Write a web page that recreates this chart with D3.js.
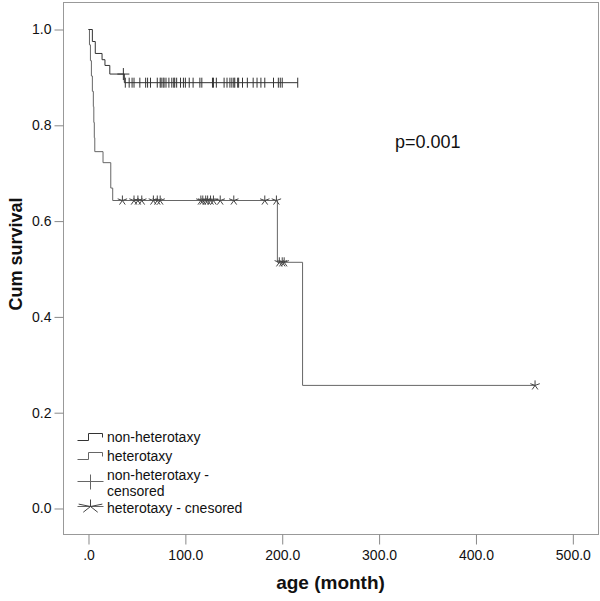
<!DOCTYPE html>
<html>
<head>
<meta charset="utf-8">
<script src="https://cdnjs.cloudflare.com/ajax/libs/d3/7.8.5/d3.min.js"></script>
<style>
  body { margin: 0; background: #fff; }
  text { font-family: "Liberation Sans", Arial, sans-serif; }
</style>
</head>
<body>
<div id="chart"></div>
<script>
var svgWidth = 600;
var svgHeight = 601;

// step curves: [time (months), cumulative survival]
var nonHetSteps = [[0, 1.0], [4, 0.975], [7, 0.95], [14, 0.937], [17, 0.925], [22, 0.907], [37, 0.889], [216, 0.889]];
var hetSteps = [[0, 1.0], [1, 0.968], [2, 0.935], [3, 0.903], [4, 0.871], [5, 0.839], [5.5, 0.806], [6, 0.774], [6.5, 0.745],
  [15, 0.722], [23, 0.669], [25, 0.643], [195, 0.514], [221, 0.257], [461, 0.257]];

// censored times
var nonHetCensorEarly = [36];
var nonHetCensorEarlyLevel = 0.907;
var nonHetCensored = [38, 42, 45, 47, 53, 59, 61, 64, 71, 74, 75, 77, 78, 80, 83, 86, 88, 89, 91, 95, 98, 100,
  104, 108, 115, 117, 128, 129, 132, 140, 143, 146, 148, 150, 151, 154, 155, 159, 164, 170, 174, 178, 182,
  191, 196, 198, 200, 216];
var nonHetLevel = 0.889;
var hetCensored = [35, 47, 51, 55, 67, 71, 74, 116, 118, 121, 123, 126, 129, 136, 150, 182, 194];
var hetLevel = 0.643;
var hetCensored2 = [197, 200, 202];
var hetLevel2 = 0.514;
var hetCensored3 = [461];
var hetLevel3 = 0.257;

var xTicks = [0, 100, 200, 300, 400, 500];
var yTicks = [0, 0.2, 0.4, 0.6, 0.8, 1.0];
var legendLabels = [["non-heterotaxy"], ["heterotaxy"], ["non-heterotaxy -", "censored"], ["heterotaxy - cnesored"]];

var frame = { left: 63, right: 598, top: 2, bottom: 534 };

var svg = d3.select("#chart")
  .append("svg")
  .attr("width", svgWidth)
  .attr("height", svgHeight);

var xScale = d3.scaleLinear()
  .domain([-25.8, 526.5])
  .range([frame.left, frame.right]);

var yScale = d3.scaleLinear()
  .domain([-0.0543, 1.0564])
  .range([frame.bottom, frame.top]);

// frame
svg.append("rect")
  .attr("x", frame.left + 0.5)
  .attr("y", frame.top + 0.5)
  .attr("width", frame.right - frame.left)
  .attr("height", frame.bottom - frame.top)
  .attr("fill", "none")
  .attr("stroke", "#999")
  .attr("stroke-width", 1);

// x axis
var bottomAxis = d3.axisBottom(xScale)
  .tickValues(xTicks)
  .tickSize(10)
  .tickPadding(6)
  .tickFormat(d => d === 0 ? ".0" : d3.format(".1f")(d));

var xAxis = svg.append("g")
  .attr("transform", `translate(0.5, ${frame.bottom + 0.5})`)
  .call(bottomAxis);
xAxis.select(".domain").remove();
xAxis.selectAll("line").attr("stroke", "#888");
xAxis.selectAll("text")
  .attr("font-size", "14px")
  .attr("fill", "#111")
  .attr("font-family", "'Liberation Sans', Arial, sans-serif");

// y axis
var leftAxis = d3.axisLeft(yScale)
  .tickValues(yTicks)
  .tickSize(9)
  .tickPadding(3)
  .tickFormat(d3.format(".1f"));

var yAxis = svg.append("g")
  .attr("transform", `translate(${frame.left + 0.5}, 0.5)`)
  .call(leftAxis);
yAxis.select(".domain").remove();
yAxis.selectAll("line").attr("stroke", "#888");
yAxis.selectAll("text")
  .attr("font-size", "14px")
  .attr("fill", "#111")
  .attr("font-family", "'Liberation Sans', Arial, sans-serif");

// axis titles
svg.append("text")
  .attr("x", (frame.left + frame.right) / 2)
  .attr("y", 589)
  .attr("text-anchor", "middle")
  .attr("font-size", "19px")
  .attr("font-weight", "bold")
  .attr("fill", "#111")
  .text("age (month)");

svg.append("text")
  .attr("transform", "translate(22, 254) rotate(-90)")
  .attr("text-anchor", "middle")
  .attr("font-size", "18px")
  .attr("font-weight", "bold")
  .attr("fill", "#111")
  .text("Cum survival");

svg.append("text")
  .attr("x", 395)
  .attr("y", 148)
  .attr("font-size", "18px")
  .attr("fill", "#111")
  .text("p=0.001");

// survival curves
var line = d3.line()
  .x(d => xScale(d[0]))
  .y(d => yScale(d[1]))
  .curve(d3.curveStepAfter);

var plot = svg.append("g").attr("transform", "translate(0.5, 0.5)");

plot.append("path")
  .datum(hetSteps)
  .attr("d", line)
  .attr("fill", "none")
  .attr("stroke", "#666")
  .attr("stroke-width", 1);

plot.append("path")
  .datum(nonHetSteps)
  .attr("d", line)
  .attr("fill", "none")
  .attr("stroke", "#333")
  .attr("stroke-width", 1);

// censor marks
function plusMark(g, x, y, h, w) {
  g.append("line").attr("x1", x).attr("x2", x).attr("y1", y - h).attr("y2", y + h)
    .attr("stroke", "#333").attr("stroke-width", 1);
  if (w) {
    g.append("line").attr("x1", x - w).attr("x2", x + w).attr("y1", y).attr("y2", y)
      .attr("stroke", "#333").attr("stroke-width", 1);
  }
}

function starMark(g, x, y, r, sx) {
  var angles = [90, 20, 160, 235, 305];
  angles.forEach(function(a) {
    var rad = a * Math.PI / 180;
    g.append("line")
      .attr("x1", x).attr("y1", y)
      .attr("x2", x + Math.cos(rad) * r * (sx || 1))
      .attr("y2", y - Math.sin(rad) * r)
      .attr("stroke", "#444").attr("stroke-width", 1);
  });
}

nonHetCensorEarly.forEach(function(t) {
  plusMark(plot, xScale(t), yScale(nonHetCensorEarlyLevel), 6, 6);
});
nonHetCensored.forEach(function(t) {
  plusMark(plot, xScale(t), yScale(nonHetLevel), 5, 0);
});
hetCensored.forEach(function(t) {
  starMark(plot, xScale(t), yScale(hetLevel), 5);
});
hetCensored2.forEach(function(t) {
  starMark(plot, xScale(t), yScale(hetLevel2), 5);
});
hetCensored3.forEach(function(t) {
  starMark(plot, xScale(t), yScale(hetLevel3), 5);
});

// legend
var legend = svg.append("g").attr("transform", "translate(0.5, 0.5)");
var legendY = [437, 456, 475, 508];

[["#333", 0], ["#666", 1]].forEach(function(s) {
  var y = legendY[s[1]];
  legend.append("path")
    .attr("d", `M77,${y + 3}H88V${y - 4}H102V${y}`)
    .attr("fill", "none")
    .attr("stroke", s[0])
    .attr("stroke-width", 1);
});

legend.append("line").attr("x1", 77).attr("x2", 103).attr("y1", 481).attr("y2", 481)
  .attr("stroke", "#666").attr("stroke-width", 1);
legend.append("line").attr("x1", 90).attr("x2", 90).attr("y1", 474).attr("y2", 489)
  .attr("stroke", "#666").attr("stroke-width", 1);

legend.append("line").attr("x1", 77).attr("x2", 103).attr("y1", 506).attr("y2", 506)
  .attr("stroke", "#666").attr("stroke-width", 1);
starMark(legend, 90, 506, 7, 1.8);

legendLabels.forEach(function(l, i) {
  var t = svg.append("text")
    .attr("x", 107)
    .attr("y", legendY[i] + 5)
    .attr("font-size", "14px")
    .attr("fill", "#111");
  l.forEach(function(part, j) {
    t.append("tspan")
      .attr("x", 107)
      .attr("dy", j === 0 ? 0 : 16)
      .text(part);
  });
});
</script>
</body>
</html>
